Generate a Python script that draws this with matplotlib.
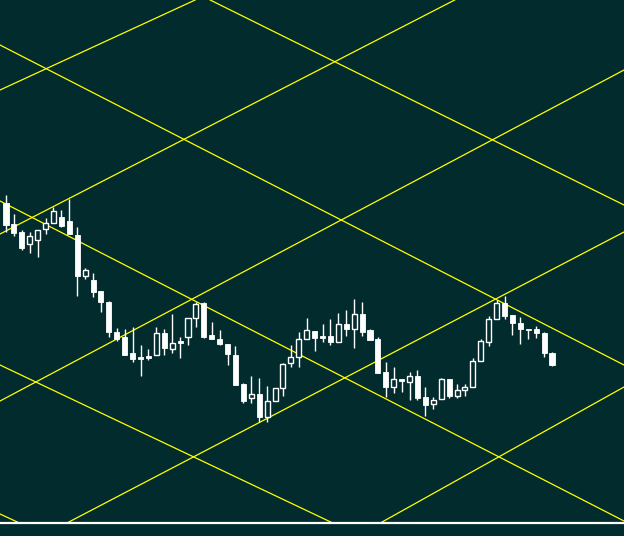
import numpy as np
import matplotlib
matplotlib.use("Agg")
import matplotlib.pyplot as plt
from matplotlib.patches import Rectangle

# ==============================================
# Data: candles (price units), bar index = position
# ==============================================
opens = [32.0, 29.9, 29.1, 27.9, 28.3, 29.4, 30.0, 30.6, 30.2, 28.8,
         24.7, 24.3, 23.2, 22.1, 19.1, 18.6, 17.0, 16.6, 16.7, 16.8,
         19.0, 17.4, 18.2, 18.6, 20.5, 22.0, 18.8, 18.4, 17.9, 16.8,
         13.9, 12.5, 12.9, 10.6, 12.2, 13.5, 16.0, 16.6, 18.4, 19.2,
         18.7, 18.7, 18.1, 19.9, 19.4, 20.9, 19.3, 18.4, 15.1, 13.6,
         14.4, 14.1, 14.7, 12.6, 11.9, 12.4, 14.4, 12.7, 13.3, 13.6,
         16.2, 18.1, 20.4, 22.0, 20.8, 20.0, 19.4, 19.4, 19.0, 17.0]
closes = [29.8, 29.0, 27.5, 28.7, 29.3, 30.0, 31.2, 29.7, 28.9, 24.7,
          25.3, 23.1, 22.1, 19.1, 18.4, 16.8, 16.4, 16.4, 16.5, 19.0,
          17.5, 18.0, 18.0, 20.5, 21.9, 18.6, 18.4, 17.9, 16.9, 13.8,
          12.2, 12.9, 10.6, 12.2, 13.5, 15.9, 16.6, 18.4, 19.3, 18.5,
          18.5, 18.1, 19.9, 19.4, 20.9, 19.1, 18.3, 15.0, 13.6, 14.4,
          14.2, 14.7, 12.5, 11.8, 12.3, 14.4, 12.7, 13.3, 13.6, 16.2,
          18.2, 20.4, 22.0, 20.7, 20.0, 19.4, 19.3, 19.0, 17.0, 15.8]
highs = [32.8, 30.9, 29.3, 29.1, 29.3, 30.5, 31.6, 31.3, 32.4, 29.6,
         25.5, 25.0, 23.2, 22.2, 19.5, 19.4, 19.6, 17.8, 17.4, 19.6,
         19.4, 20.9, 18.6, 20.5, 22.1, 22.1, 20.1, 19.3, 17.9, 17.7,
         14.0, 14.7, 14.5, 13.7, 13.5, 16.0, 17.8, 19.1, 20.5, 19.2,
         19.9, 20.4, 21.0, 21.3, 22.4, 22.1, 19.4, 18.6, 16.1, 15.6,
         14.4, 15.1, 15.3, 13.6, 12.6, 14.5, 14.4, 13.9, 13.9, 16.5,
         18.4, 20.7, 22.3, 22.7, 20.8, 20.6, 19.4, 19.7, 19.1, 17.1]
lows = [29.1, 28.7, 27.3, 27.0, 26.6, 28.9, 30.0, 29.6, 28.9, 22.7,
        24.4, 22.6, 21.1, 18.6, 18.2, 16.8, 16.1, 14.7, 16.3, 16.8,
        16.8, 17.0, 16.5, 17.8, 19.6, 18.5, 18.4, 17.8, 15.8, 13.8,
        12.0, 12.0, 10.1, 10.1, 12.2, 12.7, 15.6, 15.6, 18.4, 17.2,
        18.1, 17.8, 18.1, 18.7, 17.5, 18.7, 18.3, 15.0, 12.6, 13.0,
        13.1, 12.3, 12.3, 10.7, 11.4, 12.4, 12.5, 12.5, 12.7, 13.6,
        16.2, 17.7, 20.4, 20.4, 18.8, 17.9, 18.4, 18.5, 16.6, 15.7]

# Grid lines: two anchor points (bar, price) per line
falling_lines = [
    [(25.8, 52.3), (78.1, 31.8)],
    [(-0.76, 47.8), (78.1, 15.8)],
    [(-0.76, 32.2), (78.1, 0.2)],
    [(-0.76, 15.8), (41.3, 0.0)],
    [(-0.76, 0.9), (1.7, 0.0)],
]
rising_lines = [
    [(-0.76, 43.3), (23.9, 52.3)],
    [(-0.76, 28.9), (56.7, 52.3)],
    [(-0.76, 12.2), (78.1, 45.3)],
    [(7.7, 0.0), (78.1, 29.1)],
    [(47.3, 0.0), (78.1, 13.6)],
]

bg = "#012b2d"

# ==============================================
# Figure
# ==============================================
fig = plt.figure(figsize=(6.24, 5.36), dpi=100, facecolor=bg)
ax = fig.add_axes([0, 0, 1, 1])
ax.set_facecolor(bg)
ax.set_xlim(-0.76, 78.1)
ax.set_ylim(-1.3, 52.3)
ax.axis("off")

# yellow grid
for line in falling_lines + rising_lines:
    xs = [p[0] for p in line]
    ys = [p[1] for p in line]
    ax.plot(xs, ys, color="#ffff00", lw=0.9, zorder=1)

# bottom white line
ax.axhline(0, color="white", lw=1.6, zorder=2)

# candlesticks
width = 0.64
for i in range(len(opens)):
    o, c, h, l = opens[i], closes[i], highs[i], lows[i]
    ax.vlines(i, l, h, color="white", lw=1.0, zorder=3)
    bottom = min(o, c)
    height = max(abs(c - o), 0.15)
    if c >= o:
        rect = Rectangle((i - width / 2, bottom), width, height,
                         facecolor=bg, edgecolor="white", lw=1.0, zorder=4)
    else:
        rect = Rectangle((i - width / 2, bottom), width, height,
                         facecolor="white", edgecolor="white", lw=0.6, zorder=4)
    ax.add_patch(rect)

plt.savefig("out.png", dpi=100, facecolor=bg)
